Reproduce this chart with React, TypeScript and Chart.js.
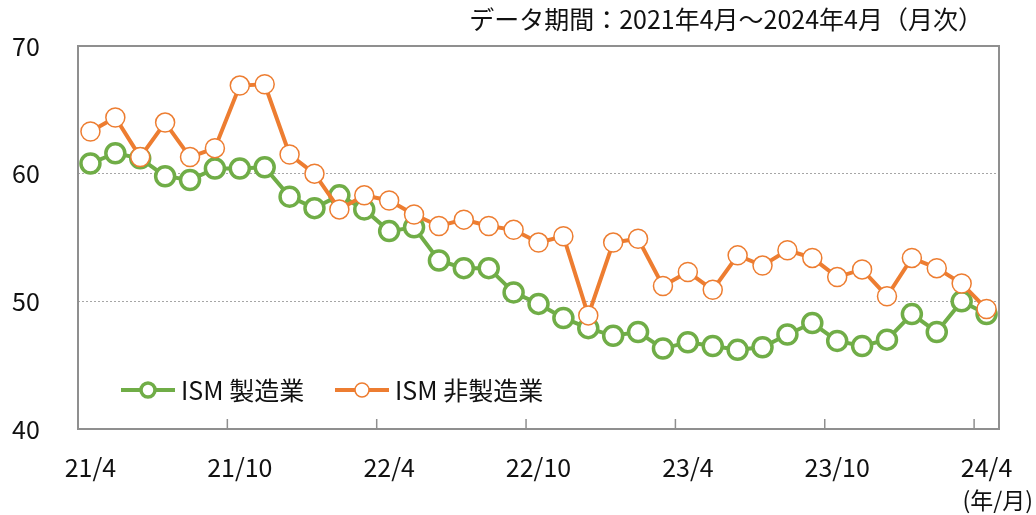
import React, { useEffect, useRef } from "react";
import { Chart, registerables } from "chart.js";

Chart.register(...registerables);

const categories = [
  "21/4", "21/5", "21/6", "21/7", "21/8", "21/9", "21/10", "21/11", "21/12",
  "22/1", "22/2", "22/3", "22/4", "22/5", "22/6", "22/7", "22/8", "22/9",
  "22/10", "22/11", "22/12", "23/1", "23/2", "23/3", "23/4", "23/5", "23/6",
  "23/7", "23/8", "23/9", "23/10", "23/11", "23/12", "24/1", "24/2", "24/3",
  "24/4",
];

const manufacturing = [
  60.8, 61.6, 61.2, 59.8, 59.5, 60.4, 60.4, 60.5, 58.2, 57.3, 58.3, 57.2,
  55.5, 55.8, 53.2, 52.6, 52.6, 50.7, 49.8, 48.7, 47.9, 47.3, 47.6, 46.3,
  46.8, 46.5, 46.2, 46.4, 47.4, 48.3, 46.9, 46.5, 47.0, 49.0, 47.6, 50.0,
  49.0,
];

const nonManufacturing = [
  63.3, 64.4, 61.3, 64.0, 61.3, 62.0, 66.9, 67.0, 61.5, 60.0, 57.2, 58.3,
  57.9, 56.8, 55.9, 56.4, 55.9, 55.6, 54.6, 55.1, 48.9, 54.6, 54.9, 51.2,
  52.3, 50.9, 53.6, 52.8, 54.0, 53.4, 51.9, 52.5, 50.4, 53.4, 52.6, 51.4,
  49.4,
];

const xTickLabels = ["21/4", "21/10", "22/4", "22/10", "23/4", "23/10", "24/4"];
const seriesNames = ["ISM 製造業", "ISM 非製造業"];
const titleText = "データ期間：2021年4月～2024年4月（月次）";
const unitText = "(年/月)";

const FONT = '"Noto Sans CJK JP", "Noto Sans", sans-serif';
const GREEN = "#70AD47";
const ORANGE = "#ED7D31";
const AXIS = "#8f8f8f";
const TEXT = "#111111";

const decorPlugin = {
  id: "decor",
  beforeDatasetsDraw(chart: any) {
    const { ctx, chartArea: a, scales } = chart;
    ctx.save();
    ctx.strokeStyle = AXIS;
    ctx.lineWidth = 2;
    ctx.strokeRect(a.left, a.top, a.right - a.left, a.bottom - a.top);
    const xs = scales.x;
    ctx.lineWidth = 1.5;
    categories.forEach((c, i) => {
      if (i > 0 && xTickLabels.includes(c)) {
        const px = (xs.getPixelForValue(i - 1) + xs.getPixelForValue(i)) / 2;
        ctx.beginPath();
        ctx.moveTo(px, a.bottom);
        ctx.lineTo(px, a.bottom - 10);
        ctx.stroke();
      }
    });
    ctx.restore();
  },
  afterDraw(chart: any) {
    const { ctx, chartArea: a } = chart;
    ctx.save();
    ctx.fillStyle = TEXT;
    // title
    ctx.font = `25px ${FONT}`;
    ctx.textAlign = "right";
    ctx.textBaseline = "middle";
    ctx.fillText(titleText, 983, 19);
    // unit
    ctx.font = `23px ${FONT}`;
    ctx.fillText(unitText, 1033, 500);
    // legend
    const items = [
      { x: 121, ds: chart.data.datasets[0] },
      { x: 335, ds: chart.data.datasets[1] },
    ];
    const ly = a.bottom - 39;
    items.forEach((it) => {
      const ds = it.ds;
      ctx.strokeStyle = ds.borderColor;
      ctx.lineWidth = ds.borderWidth;
      ctx.beginPath();
      ctx.moveTo(it.x, ly);
      ctx.lineTo(it.x + 54, ly);
      ctx.stroke();
      ctx.beginPath();
      ctx.arc(it.x + 27, ly, 7, 0, Math.PI * 2);
      ctx.fillStyle = "#ffffff";
      ctx.fill();
      ctx.lineWidth = ds.pointBorderWidth;
      ctx.strokeStyle = ds.pointBorderColor;
      ctx.stroke();
      ctx.fillStyle = TEXT;
      ctx.font = `25px ${FONT}`;
      ctx.textAlign = "left";
      ctx.textBaseline = "middle";
      ctx.fillText(ds.label, it.x + 60, ly);
    });
    ctx.restore();
  },
};

export default function App() {
  const ref = useRef<HTMLCanvasElement | null>(null);
  useEffect(() => {
    document.body.style.margin = "0";
    const canvas = ref.current;
    if (!canvas) return;
    const chart = new Chart(canvas, {
      type: "line",
      data: {
        labels: categories,
        datasets: [
          {
            label: seriesNames[0],
            data: manufacturing,
            borderColor: GREEN,
            borderWidth: 4,
            pointRadius: 9.5,
            pointBorderWidth: 3.5,
            pointBorderColor: GREEN,
            pointBackgroundColor: "#ffffff",
            tension: 0,
            order: 1,
          },
          {
            label: seriesNames[1],
            data: nonManufacturing,
            borderColor: ORANGE,
            borderWidth: 4,
            pointRadius: 9.5,
            pointBorderWidth: 1.5,
            pointBorderColor: ORANGE,
            pointBackgroundColor: "#ffffff",
            tension: 0,
            order: 0,
          },
        ],
      },
      options: {
        responsive: false,
        animation: false,
        devicePixelRatio: 1,
        layout: { padding: { top: 46, right: 37, left: 12, bottom: 0 } },
        plugins: {
          legend: { display: false },
          tooltip: { enabled: false },
          title: { display: false },
        },
        scales: {
          x: {
            type: "category",
            offset: true,
            grid: { display: false },
            border: { display: false },
            ticks: {
              autoSkip: false,
              maxRotation: 0,
              minRotation: 0,
              padding: 15,
              color: TEXT,
              font: { family: FONT, size: 25 },
              callback: (_v: any, i: number) =>
                xTickLabels.includes(categories[i]) ? categories[i] : null,
            },
            afterFit: (s: any) => {
              s.height = 86;
            },
          },
          y: {
            min: 40,
            max: 70,
            grid: {
              drawTicks: false,
              lineWidth: 1,
              color: (c: any) =>
                c.tick && (c.tick.value === 50 || c.tick.value === 60)
                  ? "#a6a6a6"
                  : "rgba(0,0,0,0)",
            },
            border: { display: false, dash: [2, 2] },
            ticks: {
              stepSize: 10,
              padding: 0,
              crossAlign: "far",
              color: TEXT,
              font: { family: FONT, size: 25 },
            },
            afterFit: (s: any) => {
              s.width = 66;
            },
          },
        },
      },
      plugins: [decorPlugin],
    });
    return () => chart.destroy();
  }, []);
  return (
    <div style={{ width: 1036, height: 515 }}>
      <canvas ref={ref} width={1036} height={515} style={{ display: "block" }} />
    </div>
  );
}
